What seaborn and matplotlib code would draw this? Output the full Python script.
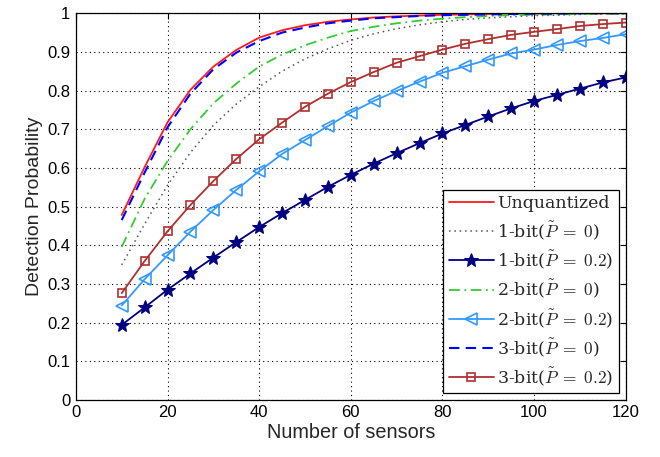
import matplotlib
matplotlib.use("Agg")
import matplotlib.pyplot as plt
import seaborn as sns
import pandas as pd

# Number of sensors (every 5 from 10 to 120)
sensors = list(range(10, 125, 5))

unquantized = [0.478, 0.602, 0.718, 0.802, 0.862, 0.905, 0.937, 0.956, 0.969, 0.978,
               0.984, 0.989, 0.992, 0.994, 0.996, 0.997, 0.998, 0.999, 0.999, 1.0,
               1.0, 1.0, 1.0]
bit1_p0 = [0.349, 0.455, 0.555, 0.640, 0.710, 0.765, 0.810, 0.850, 0.882, 0.908,
           0.930, 0.947, 0.960, 0.970, 0.978, 0.984, 0.988, 0.991, 0.994, 0.995,
           0.997, 0.998, 0.998]
bit1_p02 = [0.194, 0.239, 0.285, 0.327, 0.368, 0.408, 0.447, 0.483, 0.517, 0.551,
            0.582, 0.611, 0.638, 0.664, 0.689, 0.711, 0.733, 0.754, 0.773, 0.789,
            0.805, 0.821, 0.834]
bit2_p0 = [0.396, 0.520, 0.618, 0.700, 0.767, 0.818, 0.862, 0.893, 0.917, 0.937,
           0.954, 0.965, 0.974, 0.981, 0.986, 0.990, 0.993, 0.995, 0.996, 0.997,
           0.998, 0.999, 0.999]
bit2_p02 = [0.244, 0.312, 0.374, 0.435, 0.491, 0.543, 0.591, 0.636, 0.672, 0.708,
            0.743, 0.773, 0.799, 0.823, 0.846, 0.863, 0.880, 0.896, 0.906, 0.918,
            0.928, 0.936, 0.946]
bit3_p0 = [0.465, 0.588, 0.705, 0.792, 0.855, 0.898, 0.928, 0.950, 0.963, 0.974,
           0.981, 0.987, 0.990, 0.993, 0.995, 0.996, 0.997, 0.998, 0.999, 0.999,
           1.0, 1.0, 1.0]
bit3_p02 = [0.276, 0.359, 0.436, 0.504, 0.566, 0.623, 0.674, 0.717, 0.758, 0.792,
            0.822, 0.848, 0.872, 0.889, 0.906, 0.921, 0.933, 0.944, 0.952, 0.959,
            0.967, 0.972, 0.976]

labels = [
    "Unquantized",
    r"1-bit($\tilde{P}\;=\;0$)",
    r"1-bit($\tilde{P}\;=\;0.2$)",
    r"2-bit($\tilde{P}\;=\;0$)",
    r"2-bit($\tilde{P}\;=\;0.2$)",
    r"3-bit($\tilde{P}\;=\;0$)",
    r"3-bit($\tilde{P}\;=\;0.2$)",
]
series = [unquantized, bit1_p0, bit1_p02, bit2_p0, bit2_p02, bit3_p0, bit3_p02]

styles = [
    dict(color="#ff1a1a", linestyle="-", linewidth=1.3),
    dict(color="#555555", linestyle=(0, (1, 2.5)), linewidth=1.1),
    dict(color="#000080", linestyle="-", linewidth=1.3, marker="*", markersize=10,
         markerfacecolor="#000080", markeredgecolor="#000080"),
    dict(color="#33cc33", linestyle=(0, (6, 2.5, 1, 2.5)), linewidth=1.3),
    dict(color="#3399ff", linestyle="-", linewidth=1.3, marker="<", markersize=8,
         markerfacecolor="none", markeredgecolor="#3399ff", markeredgewidth=1.2),
    dict(color="#0000ff", linestyle=(0, (5, 3)), linewidth=1.5),
    dict(color="#b03030", linestyle="-", linewidth=1.3, marker="s", markersize=6,
         markerfacecolor="none", markeredgecolor="#b03030", markeredgewidth=1.2),
]

df = pd.DataFrame(
    [(n, v, lab) for lab, vals in zip(labels, series) for n, v in zip(sensors, vals)],
    columns=["sensors", "pd", "curve"],
)

sns.set_style("white")
plt.rcParams["font.family"] = ["Liberation Sans", "DejaVu Sans"]
plt.rcParams["mathtext.fontset"] = "cm"

fig = plt.figure(figsize=(6.6, 4.57), dpi=100)
ax = fig.add_axes([0.115, 0.125, 0.833, 0.846])

for lab, st in zip(labels, styles):
    sub = df[df["curve"] == lab]
    sns.lineplot(data=sub, x="sensors", y="pd", ax=ax, label=lab, **st)

ax.set_xlim(0, 120)
ax.set_ylim(0, 1)
ax.set_xticks(range(0, 121, 20))
ax.set_yticks([i / 10 for i in range(11)])
ax.set_yticklabels(["0", "0.1", "0.2", "0.3", "0.4", "0.5", "0.6", "0.7", "0.8", "0.9", "1"])
ax.set_xlabel("Number of sensors", fontsize=14.3, labelpad=2)
ax.set_ylabel("Detection Probability", fontsize=14, labelpad=3)

ax.grid(True, color="black", linestyle=(0, (1, 3)), linewidth=0.8)
ax.tick_params(direction="in", top=True, right=True, length=4, width=0.8,
               labelsize=12, pad=4, colors="black")
for sp in ax.spines.values():
    sp.set_color("black")
    sp.set_linewidth(0.9)

leg = ax.legend(loc="lower right", bbox_to_anchor=(0.987, 0.017), borderaxespad=0,
                frameon=True, fancybox=False, framealpha=1, edgecolor="black",
                prop=dict(family="DejaVu Serif", size=12.5), handlelength=2.6,
                handletextpad=0.2, labelspacing=0.4, borderpad=0.3)
leg.get_frame().set_linewidth(0.9)

fig.savefig("out.png", dpi=100)
